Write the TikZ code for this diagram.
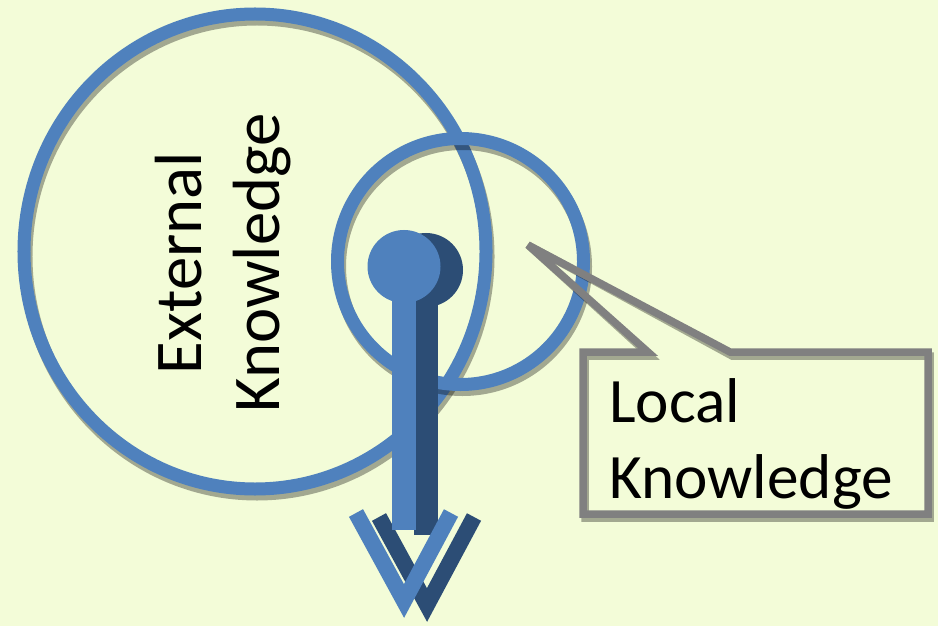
\documentclass[tikz,border=0pt]{standalone}
\usepackage{fontspec}
\setmainfont{Carlito}
\usetikzlibrary{positioning}
\definecolor{paper}{RGB}{243,252,216}
\definecolor{ringblue}{RGB}{79,129,189}
\definecolor{pindark}{RGB}{44,77,117}
\definecolor{boxgray}{RGB}{128,128,128}
\tikzset{
  ring/.style={draw=ringblue, line width=2.6mm},
  drop/.style={draw=black, draw opacity=0.33},
  bigtext/.style={font=\fontsize{36}{43.5}\selectfont, inner sep=0pt},
}

\begin{document}
\begin{tikzpicture}[x=0.2mm, y=-0.2mm]
    % paper
    \fill[paper] (0,0) rectangle (938,626);
    \useasboundingbox (0,0) rectangle (938,626);

    % outer ring (external knowledge)
    \draw[drop, line width=2.6mm] (257,256.5) ellipse [x radius=46.2mm, y radius=47.5mm];
    \draw[ring] (255,251.5) ellipse [x radius=46.2mm, y radius=47.5mm];
    \node[bigtext, font=\fontsize{38}{44.5}\selectfont, align=center, rotate=90] (external) at (223,263) {External\\Knowledge};

    % inner ring (local knowledge)
    \draw[drop, line width=2.6mm] (462.5,266.5) circle [radius=24.6mm];
    \draw[ring] (460.5,261.5) circle [radius=24.6mm];

    % callout box with its pointer
    \coordinate (tip) at (528,245);
    \begin{scope}[line width=1.5mm, miter limit=3, line join=miter]
    \draw[drop, shift={(2,4)}] (583,352) -- (648,352) -- (tip) -- (730,352) -- (928,352) -- (928,514) -- (583,514) -- cycle;
    \draw[boxgray] (583,352) -- (648,352) -- (tip) -- (730,352) -- (928,352) -- (928,514) -- (583,514) -- cycle;
    \end{scope}
    \node[bigtext, align=left, anchor=north west] (local) at (609,378) {Local\\Knowledge};

    % pin: dark copy behind
    \fill[pindark] (414,270) rectangle (438,535);
    \fill[pindark] (426,270) circle [radius=7.4mm];
    \draw[pindark, line width=3.2mm] (379,517) -- (427,605) -- (474,517);
    % pin: light copy in front
    \fill[ringblue] (392,266) rectangle (416,530);
    \fill[ringblue] (404,266.5) circle [radius=7.3mm];
    \draw[ringblue, line width=3.2mm] (356,513) -- (404,601) -- (451,513);
\end{tikzpicture}
\end{document}
